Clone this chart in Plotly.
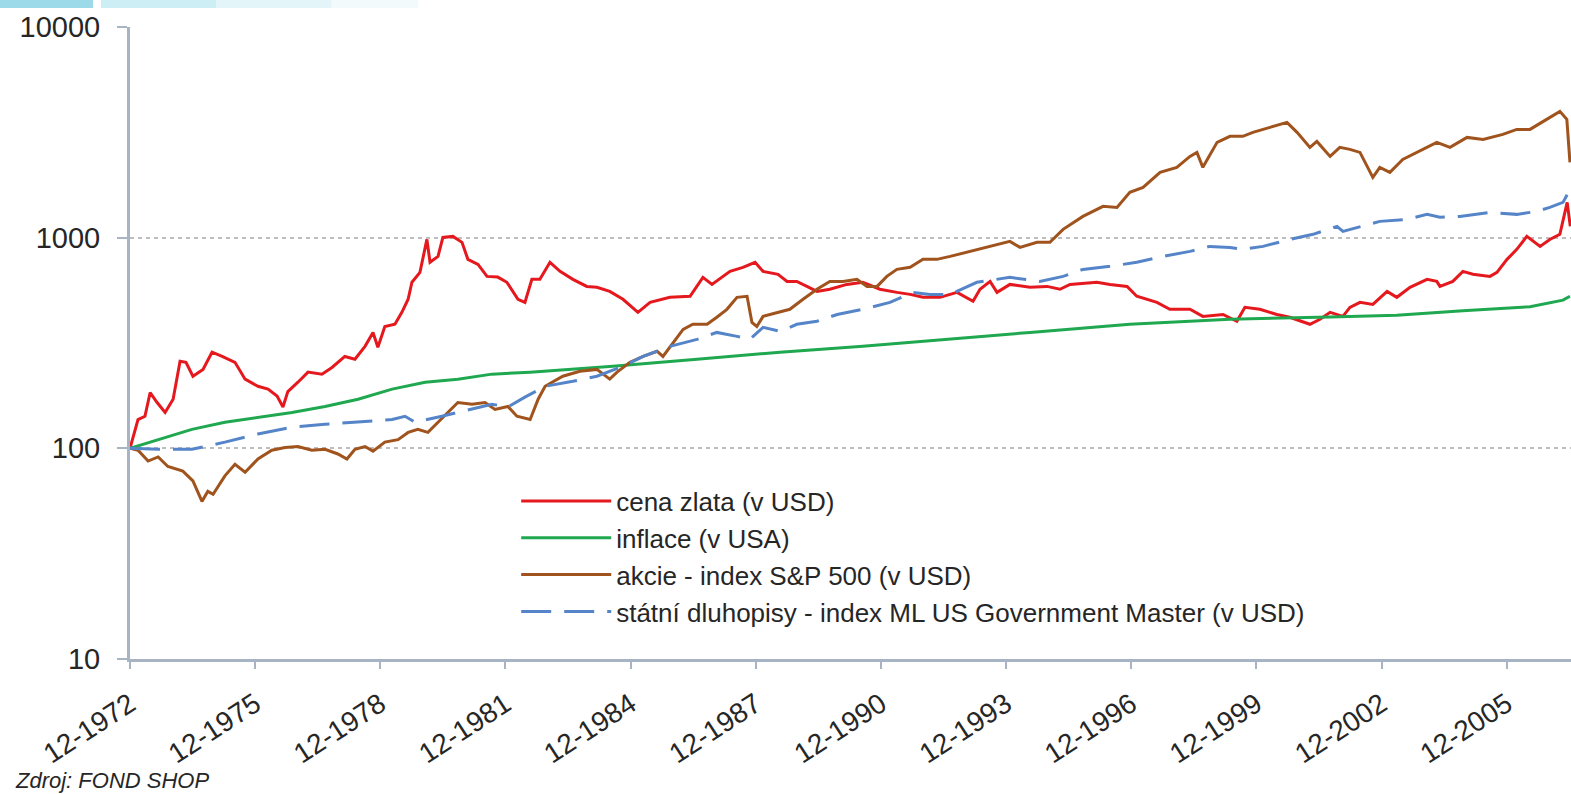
import plotly.graph_objects as go

# x = months since 12-1972
tick_months = [0, 36, 72, 108, 144, 180, 216, 252, 288, 324, 360, 396]
tick_labels = ["12-1972", "12-1975", "12-1978", "12-1981", "12-1984", "12-1987",
               "12-1990", "12-1993", "12-1996", "12-1999", "12-2002", "12-2005"]
y_ticks = [10, 100, 1000, 10000]
y_tick_labels = ["10", "100", "1000", "10000"]

series_names = ["cena zlata (v USD)", "inflace (v USA)", "akcie - index S&P 500 (v USD)",
                "státní dluhopisy - index ML US Government Master (v USD)"]

gold_month = [0, 2.3, 4.3, 5.8, 7.8, 10.1, 12.4, 14.4, 16.1, 18.1,
              21.0, 23.6, 26.5, 30.2, 33.1, 36.8, 39.7, 42.3, 44.0, 45.4,
              48.3, 51.2, 55.2, 58.1, 61.8, 64.7, 67.6, 69.9, 71.3, 73.3,
              76.2, 78.2, 80.0, 81.1, 83.4, 85.4, 86.3, 88.6, 90.0, 92.9,
              95.5, 97.2, 100.1, 102.7, 105.8, 108.4, 111.6, 113.6, 115.6, 117.9,
              120.8, 123.7, 127.4, 131.4, 134.3, 138.0, 141.8, 146.1, 149.6, 155.3,
              161.1, 164.8, 167.4, 172.6, 176.3, 179.8, 182.1, 186.4, 189.0, 191.8,
              194.7, 197.6, 201.3, 206.2, 210.8, 215.7, 220.6, 224.4, 228.1, 233.0,
              235.9, 237.9, 242.5, 244.5, 247.4, 249.4, 253.1, 258.9, 263.8, 267.5,
              270.4, 278.1, 281.9, 286.8, 289.6, 295.4, 299.1, 304.9, 308.6, 314.4,
              318.4, 320.7, 325.0, 329.9, 333.6, 339.4, 342.3, 345.2, 348.9, 350.9,
              353.8, 357.5, 361.6, 364.4, 368.2, 373.1, 375.9, 376.8, 380.5, 383.4,
              386.3, 391.2, 393.2, 396.1, 398.9, 401.8, 405.6, 408.4, 411.3, 412.8,
              413.4, 414.3]
gold_index = [100, 137, 142, 184, 165, 148, 171, 259, 256, 220,
              237, 286, 273, 256, 213, 197, 191, 177, 157, 186,
              206, 230, 225, 242, 273, 265, 305, 355, 302, 379,
              388, 442, 510, 614, 684, 981, 764, 815, 1003, 1014,
              950, 789, 747, 655, 650, 614, 510, 493, 634, 634,
              764, 692, 634, 587, 581, 556, 510, 442, 493, 521,
              527, 648, 600, 692, 723, 764, 692, 670, 620, 620,
              587, 556, 569, 600, 614, 569, 550, 538, 521, 521,
              538, 550, 499, 569, 620, 550, 600, 581, 587, 569,
              600, 614, 600, 587, 527, 493, 457, 457, 423, 432,
              401, 467, 457, 432, 419, 388, 410, 442, 423, 467,
              493, 482, 556, 521, 581, 634, 620, 587, 620, 692,
              670, 655, 684, 789, 880, 1014, 909, 981, 1037, 1318,
              1471, 1131]

infl_month = [0, 8.1, 17.8, 27.3, 36.8, 46.6, 56.1, 65.6, 75.4, 84.9,
              94.3, 104.1, 115.1, 138.9, 163.1, 187.0, 210.8, 235.9, 258.9, 287.6,
              316.4, 345.2, 364.4, 383.4, 402.7, 412.2, 414.2]
infl_index = [100, 110, 123, 133, 140, 148, 158, 171, 191, 206,
              213, 225, 230, 245, 265, 286, 305, 329, 355, 388,
              410, 420, 428, 450, 470, 505, 527]

sp_month = [0, 2.3, 5.2, 8.1, 10.9, 15.2, 18.1, 20.7, 22.4, 23.9,
            27.3, 30.2, 33.1, 36.8, 40.8, 44.6, 48.3, 52.3, 56.1, 59.8,
            62.4, 64.7, 67.6, 69.9, 73.3, 77.1, 80.0, 82.8, 85.7, 88.6,
            91.5, 94.3, 98.4, 102.1, 105.0, 108.7, 111.3, 115.1, 117.4, 119.4,
            124.5, 129.4, 134.3, 138.0, 140.1, 143.8, 147.6, 151.6, 153.3, 156.2,
            159.1, 161.9, 166.0, 168.8, 171.7, 174.6, 177.5, 178.9, 180.3, 182.1,
            186.1, 189.8, 193.6, 197.6, 201.3, 205.1, 209.1, 212.0, 214.9, 217.7,
            220.6, 224.4, 228.1, 232.1, 235.9, 241.6, 247.4, 253.1, 256.0, 260.9,
            264.6, 268.4, 274.1, 279.9, 283.9, 287.6, 291.4, 296.3, 301.1, 304.9,
            306.9, 308.6, 312.7, 316.4, 320.1, 323.0, 327.9, 332.8, 335.7, 339.4,
            341.4, 345.2, 348.0, 350.9, 353.8, 357.5, 359.5, 362.4, 366.1, 371.9,
            375.9, 379.7, 384.6, 389.2, 394.9, 398.9, 402.7, 407.5, 411.3, 413.3,
            414.2]
sp_index = [100, 98, 87, 91, 82, 78, 70, 56, 62.5, 60.5,
            74, 84, 77, 89, 98, 101, 102, 98, 99, 94,
            89, 99, 102, 97, 107, 110, 119, 123, 119, 133,
            148, 165, 162, 165, 153, 158, 142, 137, 171, 197,
            220, 232, 237, 213, 230, 256, 273, 289, 273, 318,
            367, 388, 388, 419, 457, 521, 527, 396, 379, 423,
            442, 457, 510, 569, 620, 620, 634, 587, 587, 655,
            707, 723, 789, 789, 815, 861, 909, 960, 899, 950,
            950, 1095, 1262, 1408, 1392, 1641, 1733, 2041, 2157, 2431,
            2540, 2157, 2834, 3026, 3026, 3161, 3338, 3526, 3161, 2683,
            2864, 2431, 2683, 2625, 2540, 1933, 2157, 2041, 2353, 2625,
            2834, 2683, 2992, 2928, 3093, 3266, 3266, 3643, 3977, 3643,
            2277]

bond_month = [0, 8.1, 17.8, 27.3, 36.8, 46.6, 56.1, 65.6, 75.4, 79.1,
              82.0, 89.7, 94.3, 104.1, 108.7, 113.6, 119.4, 127.4, 134.3, 141.8,
              147.6, 155.3, 163.1, 168.8, 174.6, 178.3, 182.1, 187.0, 191.8, 197.6,
              203.4, 210.8, 218.6, 225.2, 230.1, 235.9, 243.6, 253.1, 261.7, 268.4,
              274.1, 281.9, 289.6, 297.1, 304.9, 310.6, 316.4, 320.1, 325.9, 333.6,
              340.3, 347.2, 348.9, 353.8, 359.5, 367.3, 373.1, 376.8, 382.5, 391.2,
              398.9, 404.7, 408.4, 412.2, 414.2]
bond_index = [100, 99, 99, 107, 117, 126, 130, 133, 137, 142,
              133, 142, 148, 162, 157, 175, 197, 208, 220, 245,
              273, 305, 329, 355, 340, 329, 375, 359, 388, 401,
              432, 457, 493, 550, 538, 538, 614, 648, 620, 655,
              707, 731, 764, 815, 861, 909, 899, 880, 909, 981,
              1037, 1131, 1071, 1131, 1195, 1221, 1290, 1249, 1262, 1318,
              1290, 1333, 1393, 1471, 1695]

FONT = "Arial, 'Liberation Sans', sans-serif"
AXIS_COLOR = "#A8B4C4"
TEXT_COLOR = "#262626"

fig = go.Figure()
fig.add_trace(go.Scatter(x=gold_month, y=gold_index, mode="lines", name=series_names[0],
                         line=dict(color="#E5181E", width=3)))
fig.add_trace(go.Scatter(x=infl_month, y=infl_index, mode="lines", name=series_names[1],
                         line=dict(color="#1FA84F", width=3)))
fig.add_trace(go.Scatter(x=sp_month, y=sp_index, mode="lines", name=series_names[2],
                         line=dict(color="#A0531C", width=3)))
fig.add_trace(go.Scatter(x=bond_month, y=bond_index, mode="lines", name=series_names[3],
                         line=dict(color="#5585C8", width=3, dash="30px,13px")))

fig.update_layout(
    width=1571, height=794,
    margin=dict(l=130, r=0, t=27, b=135),
    paper_bgcolor="white", plot_bgcolor="white",
    font=dict(family=FONT, color=TEXT_COLOR),
    showlegend=True,
    legend=dict(x=0.268, y=0.287, xanchor="left", yanchor="top",
                bgcolor="rgba(0,0,0,0)", font=dict(size=26, color=TEXT_COLOR),
                itemwidth=90, traceorder="normal"),
    annotations=[dict(text="<i>Zdroj: FOND SHOP</i>", xref="paper", yref="paper",
                      x=-0.081, y=-0.192, xanchor="left", yanchor="middle",
                      showarrow=False, font=dict(size=22, color=TEXT_COLOR))],
    shapes=[
        dict(type="rect", xref="paper", yref="paper", x0=-0.0902, x1=-0.0257,
             y0=1.0301, y1=1.05, fillcolor="#9CD9E9", line=dict(width=0), layer="below"),
        dict(type="rect", xref="paper", yref="paper", x0=-0.0201, x1=0.06,
             y0=1.0301, y1=1.05, fillcolor="#CDEEF5", line=dict(width=0), layer="below"),
        dict(type="rect", xref="paper", yref="paper", x0=0.06, x1=0.14,
             y0=1.0301, y1=1.05, fillcolor="#E3F5F9", line=dict(width=0), layer="below"),
        dict(type="rect", xref="paper", yref="paper", x0=0.14, x1=0.2,
             y0=1.0301, y1=1.05, fillcolor="#F2FAFC", line=dict(width=0), layer="below"),
    ],
)

fig.update_xaxes(
    range=[0, 414.5], tickvals=tick_months, ticktext=tick_labels, tickangle=-33,
    ticks="outside", ticklen=7, tickwidth=2, tickcolor=AXIS_COLOR,
    showline=True, linecolor=AXIS_COLOR, linewidth=3,
    showgrid=False, zeroline=False, ticklabelstandoff=8,
    tickfont=dict(size=28, color=TEXT_COLOR, family=FONT),
)
fig.update_yaxes(
    type="log", range=[1, 4], tickvals=y_ticks, ticktext=y_tick_labels,
    ticks="outside", ticklen=10, tickwidth=2, tickcolor=AXIS_COLOR,
    showline=True, linecolor=AXIS_COLOR, linewidth=3,
    showgrid=True, gridcolor="#BDBDBD", gridwidth=1.5, griddash="4px,4px",
    zeroline=False, ticklabelstandoff=11,
    tickfont=dict(size=29, color=TEXT_COLOR, family=FONT),
)

fig.write_html("out.html", config={"displayModeBar": False},
               post_script="document.body.style.margin='0';")
